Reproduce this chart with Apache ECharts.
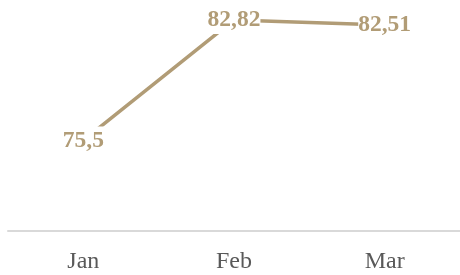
<!DOCTYPE html>
<html>
<head>
<meta charset="utf-8">
<script src="https://cdn.jsdelivr.net/npm/echarts@6/dist/echarts.min.js"></script>
<style>
  html, body { margin: 0; padding: 0; background: #fff; }
  #chart { width: 460px; height: 275px; }
</style>
</head>
<body>
<div id="chart"></div>
<script>
const months = ['Jan', 'Feb', 'Mar'];
const values = [75.5, 82.82, 82.51];

const lineColor = '#b19c76';

const chart = echarts.init(document.getElementById('chart'));
chart.setOption({
  animation: false,
  grid: { left: 8, right: 0, top: 17, bottom: 44 },
  xAxis: {
    type: 'category',
    data: months,
    axisLine: { lineStyle: { color: '#d9d9d9', width: 2 } },
    axisTick: { show: false },
    axisLabel: {
      color: '#595959',
      fontFamily: 'Liberation Serif',
      fontSize: 24,
      margin: 19
    }
  },
  yAxis: {
    type: 'value',
    min: 70,
    max: 83,
    show: false
  },
  series: [{
    type: 'line',
    data: values,
    symbol: 'circle',
    symbolSize: 2,
    showAllSymbol: true,
    itemStyle: { color: 'rgba(0,0,0,0)', borderWidth: 0 },
    lineStyle: { color: lineColor, width: 3.5 },
    label: {
      show: true,
      position: 'inside',
      color: lineColor,
      fontFamily: 'Liberation Serif',
      fontWeight: 'bold',
      fontSize: 23.5,
      backgroundColor: '#fff',
      padding: [2, 0],
      formatter: p => String(p.value).replace('.', ',')
    }
  }]
});
</script>
</body>
</html>
